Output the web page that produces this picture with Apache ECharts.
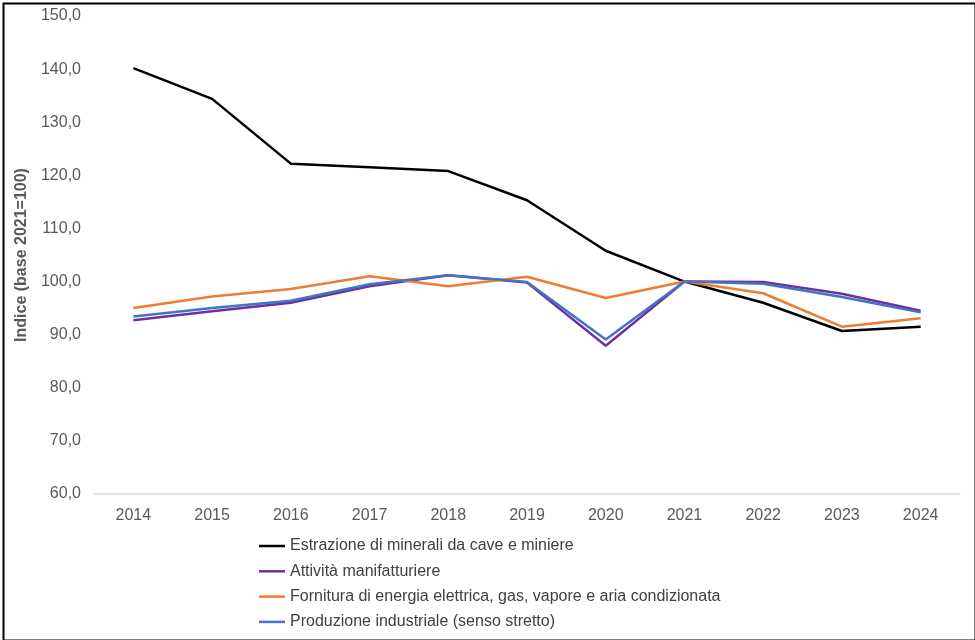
<!DOCTYPE html>
<html>
<head>
<meta charset="utf-8">
<script src="https://cdn.jsdelivr.net/npm/echarts@6/dist/echarts.min.js"></script>
<style>
html,body{margin:0;padding:0;background:#fff;}
#c{width:975px;height:640px;}
</style>
</head>
<body>
<div id="c"></div>
<script>
const years = ['2014','2015','2016','2017','2018','2019','2020','2021','2022','2023','2024'];
const estrazione = [140.2, 134.4, 122.2, 121.5, 120.8, 115.3, 105.8, 100.0, 96.0, 90.7, 91.5];
const manifatturiere = [92.7, 94.4, 96.0, 99.1, 101.2, 99.8, 87.9, 100.0, 99.9, 97.7, 94.5];
const energia = [95.0, 97.2, 98.6, 101.0, 99.1, 100.9, 96.9, 100.0, 97.8, 91.5, 93.1];
const produzione = [93.4, 95.0, 96.4, 99.5, 101.2, 99.9, 89.1, 100.0, 99.6, 97.1, 94.2];
const seriesNames = [
  'Estrazione di minerali da cave e miniere',
  'Attività manifatturiere',
  'Fornitura di energia elettrica, gas, vapore e aria condizionata',
  'Produzione industriale (senso stretto)'
];
const seriesData = [estrazione, manifatturiere, energia, produzione];
const colors = ['#000000', '#7030A0', '#ED7D31', '#4472C4'];

const chart = echarts.init(document.getElementById('c'));
chart.setOption({
  animation: false,
  textStyle: {fontFamily: 'Liberation Sans, Arial, sans-serif'},
  graphic: [{
    type: 'rect', left: 1, top: 1,
    shape: {width: 972, height: 637},
    style: {fill: 'none', stroke: '#000', lineWidth: 2}
  }],
  grid: {left: 94, right: 15, top: 16, bottom: 146},
  legend: {
    orient: 'vertical', left: 259, top: 538, padding: 0,
    icon: 'rect', itemWidth: 26, itemHeight: 2.5, itemGap: 9.3,
    textStyle: {fontSize: 16, color: '#404040', fontFamily: 'Liberation Sans, Arial, sans-serif'},
    data: seriesNames
  },
  xAxis: {
    type: 'category', data: years, boundaryGap: true,
    axisLine: {lineStyle: {color: '#D9D9D9', width: 1.5}},
    axisTick: {show: false},
    axisLabel: {fontSize: 16, color: '#595959', margin: 14}
  },
  yAxis: {
    type: 'value', min: 60, max: 150, interval: 10,
    name: 'Indice (base 2021=100)', nameLocation: 'middle', nameGap: 58,
    nameTextStyle: {fontSize: 16, fontWeight: 'bold', color: '#595959'},
    splitLine: {show: false},
    axisLine: {show: false}, axisTick: {show: false},
    axisLabel: {fontSize: 16, color: '#595959', margin: 13,
      formatter: v => v.toFixed(1).replace('.', ',')}
  },
  series: seriesNames.map((n, i) => ({
    name: n, type: 'line', data: seriesData[i],
    symbol: 'none', color: colors[i],
    lineStyle: {width: 2.5, color: colors[i]}
  }))
});
</script>
</body>
</html>
